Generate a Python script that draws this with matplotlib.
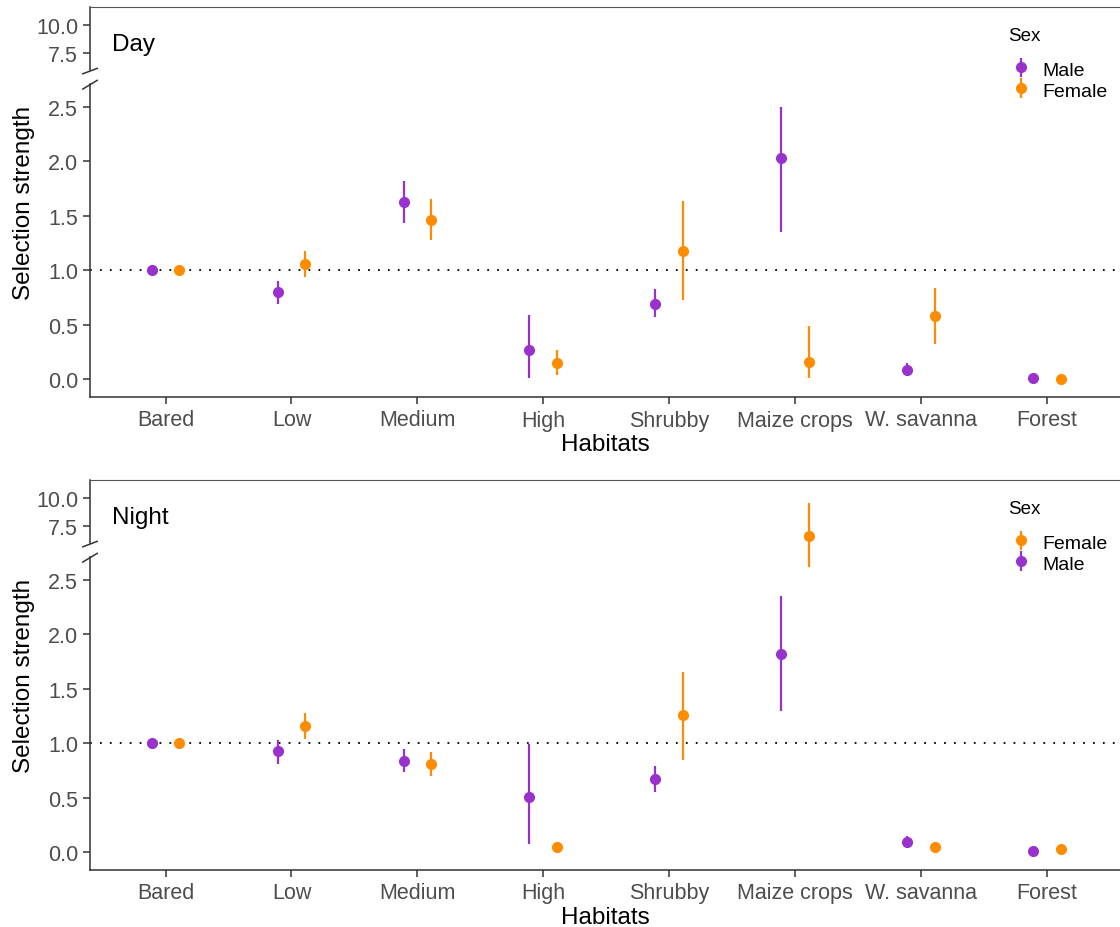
import numpy as np
import matplotlib
matplotlib.use("Agg")
import matplotlib.pyplot as plt
import matplotlib.transforms as mtransforms

plt.rcParams['font.family'] = ['Liberation Sans', 'DejaVu Sans']

habitats = ["Bared", "Low", "Medium", "High", "Shrubby", "Maize crops", "W. savanna", "Forest"]

# Day
day_male = [1.00, 0.80, 1.63, 0.27, 0.69, 2.03, 0.08, 0.01]
day_male_lo = [1.00, 0.69, 1.43, 0.01, 0.57, 1.35, 0.03, 0.01]
day_male_hi = [1.00, 0.90, 1.82, 0.59, 0.83, 2.53, 0.15, 0.01]
day_female = [1.00, 1.06, 1.46, 0.15, 1.18, 0.16, 0.58, 0.00]
day_female_lo = [1.00, 0.94, 1.28, 0.04, 0.73, 0.01, 0.32, 0.00]
day_female_hi = [1.00, 1.18, 1.65, 0.27, 1.64, 0.49, 0.84, 0.00]

# Night
night_male = [1.00, 0.93, 0.84, 0.51, 0.67, 1.82, 0.09, 0.01]
night_male_lo = [1.00, 0.81, 0.74, 0.07, 0.55, 1.30, 0.04, 0.01]
night_male_hi = [1.00, 1.03, 0.95, 0.99, 0.79, 2.35, 0.15, 0.01]
night_female = [1.00, 1.16, 0.81, 0.05, 1.26, 6.57, 0.05, 0.03]
night_female_lo = [1.00, 1.04, 0.70, 0.02, 0.85, 3.72, 0.01, 0.02]
night_female_hi = [1.00, 1.28, 0.92, 0.09, 1.65, 9.55, 0.09, 0.04]

yticks = [0, 0.5, 1.0, 1.5, 2.0, 2.5, 7.5, 10.0]

MALE_COL = "#9932CC"
FEMALE_COL = "#FF8C00"
BRK = 2.5
SQ = 0.1


def fwd(y):
    y = np.asarray(y, dtype=float)
    return np.where(y <= BRK, y, BRK + (y - BRK) * SQ)


def inv(y):
    y = np.asarray(y, dtype=float)
    return np.where(y <= BRK, y, BRK + (y - BRK) / SQ)


def panel(ax, title, male, male_lo, male_hi, female, female_lo, female_hi, female_first):
    x = np.arange(len(habitats))
    ax.set_yscale('function', functions=(fwd, inv))
    ax.set_xlim(-0.6, 7.58)
    ax.set_ylim(-0.165, 11.69)

    ax.axhline(1.0, color="black", lw=1.3, ls=(0, (1, 4.5)), zorder=1)

    m = np.array(male)
    f = np.array(female)
    hm = ax.errorbar(x - 0.11, m, yerr=[m - np.array(male_lo), np.array(male_hi) - m],
                     fmt='o', color=MALE_COL, ms=7, elinewidth=1.6, capsize=0, zorder=3)
    hf = ax.errorbar(x + 0.11, f, yerr=[f - np.array(female_lo), np.array(female_hi) - f],
                     fmt='o', color=FEMALE_COL, ms=7, elinewidth=1.6, capsize=0, zorder=3)

    ax.set_xticks(x)
    ax.set_xticklabels(habitats)
    ax.set_yticks(yticks)
    ax.set_yticklabels(["%.1f" % v for v in yticks])
    ax.tick_params(axis='both', labelsize=15.5, labelcolor="#4D4D4D", color="#333333",
                   length=5, width=1.1)
    ax.tick_params(axis='x', pad=4)
    ax.set_xlabel("Habitats", fontsize=17.5, labelpad=1.5)
    ax.set_ylabel("Selection strength", fontsize=17.5, labelpad=1)

    ax.spines['right'].set_visible(False)
    ax.spines['left'].set_visible(False)
    ax.spines['top'].set_color("#555555")
    ax.spines['bottom'].set_color("#333333")
    ax.spines['bottom'].set_linewidth(1.1)

    # left axis line with a break
    tr = mtransforms.blended_transform_factory(ax.transAxes, ax.transData)
    ax.plot([0, 0], [-0.165, 4.6], transform=tr, color="#333333", lw=1.1, clip_on=False)
    ax.plot([0, 0], [5.9, 11.69], transform=tr, color="#333333", lw=1.1, clip_on=False)
    ax.plot([-0.007, 0.007], [4.15, 4.95], transform=tr, color="#333333", lw=1.1, clip_on=False)
    ax.plot([-0.007, 0.007], [5.55, 6.05], transform=tr, color="#333333", lw=1.1, clip_on=False)

    ax.text(0.021, 0.905, title, transform=ax.transAxes, fontsize=17.5, va='center', ha='left')

    # legend
    ax.text(0.891, 0.926, "Sex", transform=ax.transAxes, fontsize=13.5, va='center', ha='left')
    handles = [hf, hm] if female_first else [hm, hf]
    labels = ["Female", "Male"] if female_first else ["Male", "Female"]
    ax.legend(handles, labels, loc='upper left', bbox_to_anchor=(0.896, 0.866),
              frameon=False, fontsize=14, handlelength=0.8, handleheight=1.1,
              handletextpad=0.7, labelspacing=0.05, borderaxespad=0, borderpad=0)


fig = plt.figure(figsize=(11.2, 9.28), dpi=100)
ax1 = fig.add_axes([90 / 1120, 1 - 398 / 928, 1030 / 1120, 390 / 928])
ax2 = fig.add_axes([90 / 1120, 1 - 871 / 928, 1030 / 1120, 390 / 928])

panel(ax1, "Day", day_male, day_male_lo, day_male_hi, day_female, day_female_lo, day_female_hi, False)
panel(ax2, "Night", night_male, night_male_lo, night_male_hi, night_female, night_female_lo, night_female_hi, True)

fig.savefig("out.png", dpi=100)
